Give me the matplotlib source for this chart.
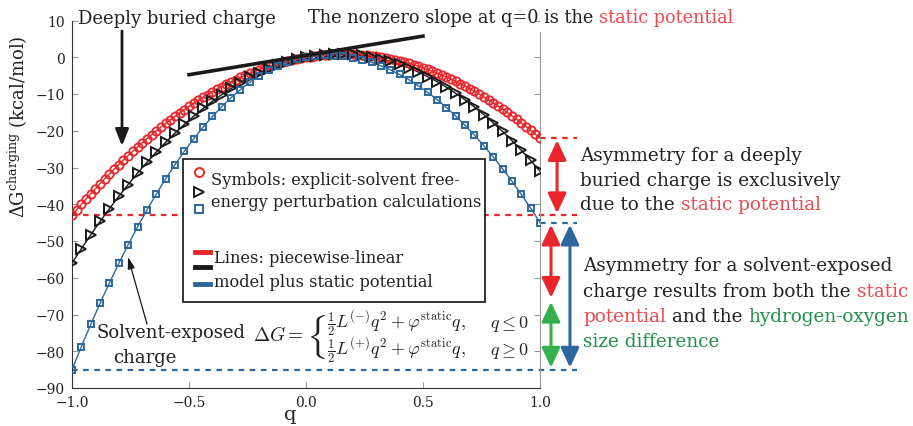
import numpy as np
import matplotlib
import matplotlib.pyplot as plt
from matplotlib.transforms import Affine2D
from matplotlib.patches import Rectangle
from matplotlib.lines import Line2D

W, H = 913, 427
plt.rcParams['font.family'] = 'DejaVu Serif'
plt.rcParams['mathtext.fontset'] = 'dejavuserif'

RED = '#e8262b'
BLK = '#1a1a1a'
BLU = '#2c67a0'
GRN = '#35b04a'
TXT = '#222222'
TRED = '#ec4a4f'
TGRN = '#23904a'

# explicit-solvent charging free energies (kcal/mol)
q_red = np.linspace(-1, 1, 101)
g_red = [-43.0, -41.50, -40.03, -38.59, -37.17, -35.78, -34.41, -33.07, -31.75, -30.46,
         -29.20, -27.96, -26.75, -25.57, -24.41, -23.28, -22.17, -21.09, -20.03, -19.00,
         -18.00, -17.02, -16.07, -15.15, -14.25, -13.38, -12.53, -11.71, -10.91, -10.14,
         -9.40, -8.68, -7.99, -7.33, -6.69, -6.08, -5.49, -4.93, -4.39, -3.88,
         -3.40, -2.94, -2.51, -2.11, -1.73, -1.38, -1.05, -0.75, -0.47, -0.22,
         0.0, 0.20, 0.37, 0.51, 0.63, 0.73, 0.79, 0.83, 0.85, 0.84,
         0.80, 0.74, 0.65, 0.53, 0.39, 0.23, 0.03, -0.19, -0.43, -0.70,
         -1.00, -1.32, -1.67, -2.05, -2.45, -2.88, -3.33, -3.81, -4.31, -4.84,
         -5.40, -5.98, -6.59, -7.23, -7.89, -8.58, -9.29, -10.03, -10.79, -11.58,
         -12.40, -13.24, -14.11, -15.01, -15.93, -16.88, -17.85, -18.85, -19.87, -20.92,
         -22.0]

q_blk = np.linspace(-1, 1, 51)
g_blk = [-56.0, -52.09, -48.32, -44.69, -41.19, -37.84, -34.63, -31.55, -28.61, -25.82,
         -23.16, -20.64, -18.26, -16.02, -13.92, -11.96, -10.14, -8.45, -6.91, -5.51,
         -4.24, -3.11, -2.13, -1.28, -0.57, 0.0, 0.43, 0.72, 0.87, 0.89,
         0.76, 0.49, 0.09, -0.45, -1.14, -1.96, -2.92, -4.02, -5.26, -6.64,
         -8.16, -9.82, -11.61, -13.55, -15.63, -17.84, -20.19, -22.69, -25.32, -28.09,
         -31.0]

q_blu = np.linspace(-1, 1, 51)
g_blu = [-85.0, -78.74, -72.72, -66.93, -61.39, -56.08, -51.01, -46.18, -41.59, -37.24,
         -33.12, -29.24, -25.60, -22.20, -19.04, -16.12, -13.44, -10.99, -8.78, -6.81,
         -5.08, -3.59, -2.33, -1.32, -0.54, 0.0, 0.33, 0.48, 0.46, 0.26,
         -0.12, -0.68, -1.41, -2.32, -3.41, -4.68, -6.12, -7.75, -9.55, -11.52,
         -13.68, -16.01, -18.52, -21.21, -24.08, -27.12, -30.34, -33.74, -37.32, -41.07,
         -45.0]

phi_static = 10.5  # kcal/mol per e, slope at q=0

fig = plt.figure(figsize=(W / 100, H / 100), dpi=100)
ax = fig.add_axes([72 / W, 1 - 389 / H, 468 / W, (389 - 21.5) / H])
T = Affine2D().scale(1, -1).translate(0, H)  # image pixels -> display

# model lines + symbols
ax.plot(q_red, g_red, '-', color=RED, lw=1, zorder=2)
ax.plot(q_red, g_red, 'o', mfc='none', mec=RED, ms=6, mew=1.3, zorder=3)
ax.plot(q_blk, g_blk, '-', color=BLK, lw=1, zorder=2)
ax.plot(q_blk, g_blk, '>', mfc='none', mec=BLK, ms=7, mew=1.4, zorder=3)
ax.plot(q_blu, g_blu, '-', color=BLU, lw=1, zorder=2)
ax.plot(q_blu, g_blu, 's', mfc='none', mec=BLU, ms=5, mew=1.4, zorder=3)

# tangent at q=0
qt = np.array([-0.5, 0.5])
ax.plot(qt, phi_static * qt + 0.5, color=BLK, lw=2.6, zorder=4)

# dashed reference levels
dash = dict(ls=(0, (2.5, 2.5)), lw=1.6, clip_on=False, zorder=1)
ax.plot([-1, 1.158], [g_red[0]] * 2, color=RED, **dash)
ax.plot([1, 1.158], [g_red[-1]] * 2, color=RED, **dash)
ax.plot([1, 1.158], [g_blu[-1]] * 2, color=BLU, **dash)
ax.plot([-1, 1.158], [g_blu[0]] * 2, color=BLU, **dash)

# double arrows
def dbl(x, y0, y1, c):
    ax.annotate('', xy=(x, y1), xytext=(x, y0), annotation_clip=False,
                arrowprops=dict(arrowstyle='<|-|>,head_length=0.6,head_width=0.28',
                                mutation_scale=20, color=c, lw=2.2,
                                shrinkA=1.5, shrinkB=1.5))

dbl(1.073, g_red[-1], g_red[0], RED)
split = g_blu[-1] - (g_red[-1] - g_red[0])
dbl(1.047, g_blu[-1], split, RED)
dbl(1.047, split, g_blu[0], GRN)
dbl(1.128, g_blu[-1], g_blu[0], BLU)

ax.set_xlim(-1, 1)
ax.set_ylim(-90, 10)
ax.set_xticks([-1, -0.5, 0, 0.5, 1])
ax.set_yticks(np.arange(-90, 11, 10))
ax.spines['top'].set_visible(False)
ax.spines['right'].set_color('#999999')
ax.spines['right'].set_bounds(-90, 7)
ax.spines['left'].set_color('#333333')
ax.spines['bottom'].set_color('#333333')
ax.tick_params(direction='in', length=4, color='#999999', labelsize=10,
               labelcolor=TXT, right=True, pad=5)
ax.set_ylabel(r'$\Delta$G$^{\mathrm{charging}}$ (kcal/mol)', fontsize=13, color=TXT)
ax.yaxis.set_label_coords(-0.09, 0.715)
ax.set_xlabel('q', fontsize=14, color=TXT)
ax.xaxis.set_label_coords(0.466, -0.045)

renderer = fig.canvas.get_renderer()


def width(s, size):
    t = fig.text(0, 0, s, fontsize=size)
    w = t.get_window_extent(renderer).width
    t.remove()
    return w


def rich(x, y, parts, size):
    sp = width('a a', size) - width('aa', size)
    for i, (s, c) in enumerate(parts):
        t = fig.text(x, y, s, color=c, fontsize=size, transform=T,
                     ha='left', va='baseline')
        x = t.get_window_extent(renderer).x1 + sp


# headline texts
rich(78, 24, [('Deeply buried charge', TXT)], 13)
rich(308, 23, [('The nonzero slope at q=0 is the', TXT), ('static potential', TRED)], 12.8)

ax.annotate('', xy=(122, 147), xytext=(122, 32), xycoords=T, textcoords=T,
            arrowprops=dict(arrowstyle='-|>,head_length=0.5,head_width=0.2',
                            mutation_scale=20, color=BLK, lw=2,
                            shrinkA=0, shrinkB=0))

rich(97, 338, [('Solvent-exposed', TXT)], 13)
rich(113, 363, [('charge', TXT)], 13)
ax.annotate('', xy=(128, 258), xytext=(147, 325), xycoords=T, textcoords=T,
            arrowprops=dict(arrowstyle='-|>,head_length=0.5,head_width=0.15',
                            mutation_scale=14, color=BLK, lw=0.9,
                            shrinkA=0, shrinkB=0))

# right-hand explanations
rs = 13.2
rich(580, 161, [('Asymmetry for a deeply', TXT)], rs)
rich(580, 186, [('buried charge is exclusively', TXT)], rs)
rich(580, 210, [('due to the', TXT), ('static potential', TRED)], rs)
rich(583, 271, [('Asymmetry for a solvent-exposed', TXT)], rs)
rich(583, 297, [('charge results from both the', TXT), ('static', TRED)], rs)
rich(583, 322, [('potential', TRED), ('and the', TXT), ('hydrogen-oxygen', TGRN)], rs)
rich(583, 347, [('size difference', TGRN)], rs)

# equation
fig.text(253, 341, r'$\Delta G =$', transform=T, fontsize=14, math_fontfamily='cm',
         color=TXT, va='baseline')
fig.text(306, 337, r'$\{$', transform=T, fontsize=27, math_fontfamily='cm',
         color=TXT, va='center')
fig.text(327, 328, r'$\frac{1}{2}L^{(-)}q^2 + \varphi^{\mathrm{static}}q,$', transform=T,
         fontsize=13, math_fontfamily='cm', color=TXT, va='baseline')
fig.text(327, 355, r'$\frac{1}{2}L^{(+)}q^2 + \varphi^{\mathrm{static}}q,$', transform=T,
         fontsize=13, math_fontfamily='cm', color=TXT, va='baseline')
fig.text(490, 328, r'$q \leq 0$', transform=T, fontsize=13, math_fontfamily='cm',
         color=TXT, va='baseline')
fig.text(490, 355, r'$q \geq 0$', transform=T, fontsize=13, math_fontfamily='cm',
         color=TXT, va='baseline')

# legend box
ax.add_patch(Rectangle((183, 160), 302, 143, transform=T, fc='white', ec='#222222',
                       lw=1.3, zorder=6, clip_on=False))
for (xx, yy, m, c, ms) in [(199, 173, 'o', RED, 6.5), (199, 193, '>', BLK, 7.5), (199, 210, 's', BLU, 5.5)]:
    fig.add_artist(Line2D([xx], [yy], marker=m, mfc='none', mec=c, ms=ms, mew=1.4,
                          transform=T, zorder=7))
for (yy, c) in [(253, RED), (268, BLK), (285, BLU)]:
    fig.add_artist(Line2D([195, 210], [yy, yy], color=c, lw=3.5, transform=T, zorder=7))
for (xx, yy, s) in [(211, 185, 'Symbols: explicit-solvent free-'),
                    (211, 207, 'energy perturbation calculations'),
                    (214, 263, 'Lines: piecewise-linear'),
                    (214, 287, 'model plus static potential')]:
    fig.text(xx, yy, s, transform=T, fontsize=11.7, color=TXT, va='baseline', zorder=8)

fig.savefig('out.png', dpi=100)
